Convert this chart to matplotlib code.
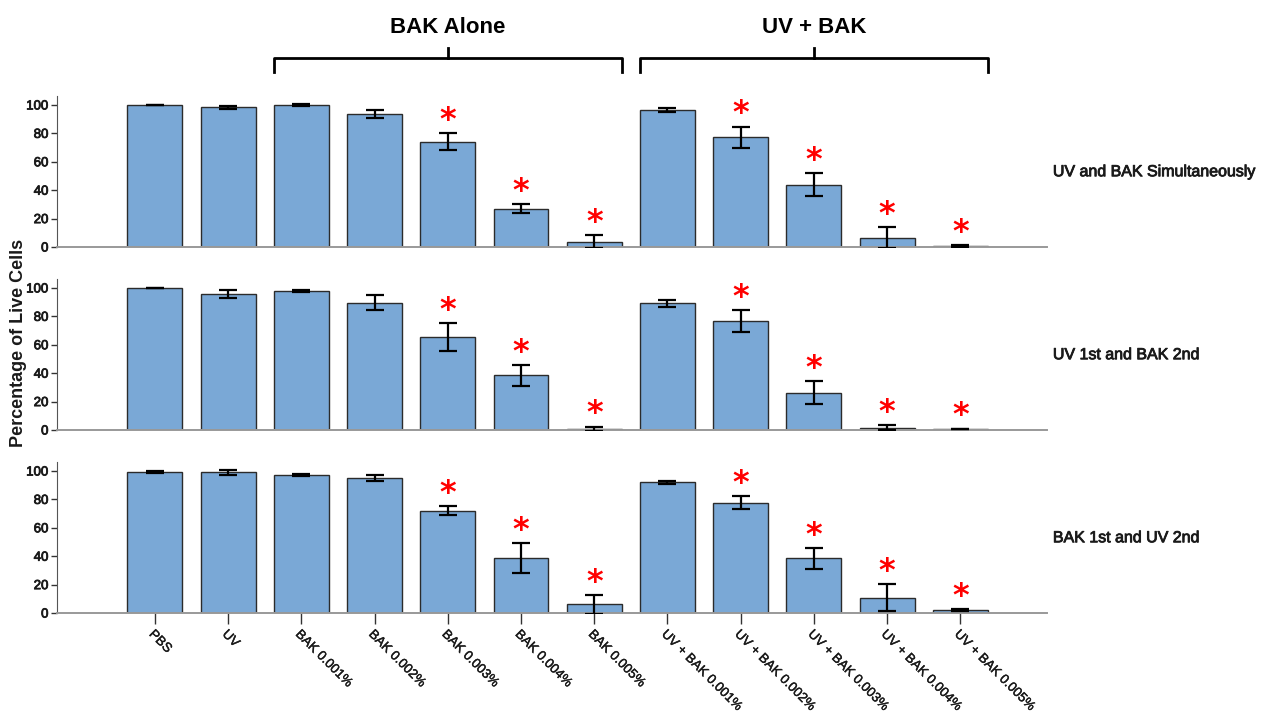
"""Cell viability after BAK and UV exposure, three treatment orders."""

import matplotlib.pyplot as plt
import matplotlib.patheffects as pe
import matplotlib.transforms as mtransforms
import numpy as np

CATEGORIES = [
    "PBS", "UV",
    "BAK 0.001%", "BAK 0.002%", "BAK 0.003%", "BAK 0.004%", "BAK 0.005%",
    "UV + BAK 0.001%", "UV + BAK 0.002%", "UV + BAK 0.003%", "UV + BAK 0.004%", "UV + BAK 0.005%",
]

PANEL_LABELS = ["UV and BAK Simultaneously", "UV 1st and BAK 2nd", "BAK 1st and UV 2nd"]

# mean % live cells and error (half-length of bar) per panel
SIMUL_MEAN = [100.0, 98.3, 99.8, 93.6, 74.2, 27.0, 3.8, 96.5, 77.3, 44.0, 6.6, 0.7]
SIMUL_ERR = [0.3, 1.0, 0.8, 3.0, 6.2, 3.3, 4.5, 1.4, 7.4, 8.2, 7.5, 0.5]

UV_FIRST_MEAN = [100.0, 95.8, 97.9, 89.6, 65.6, 38.4, 0.9, 89.2, 76.7, 26.2, 1.7, 0.7]
UV_FIRST_ERR = [0.3, 3.0, 1.0, 5.4, 9.7, 7.3, 1.5, 2.6, 7.5, 8.0, 1.5, 0.3]

BAK_FIRST_MEAN = [99.5, 99.0, 97.2, 95.1, 72.1, 38.7, 6.1, 92.0, 77.7, 38.5, 10.8, 2.1]
BAK_FIRST_ERR = [0.8, 1.7, 1.0, 2.3, 3.4, 10.5, 6.5, 1.0, 4.8, 7.3, 9.4, 0.6]

# categories marked significant (red asterisk)
SIGNIFICANT = [4, 5, 6, 8, 9, 10, 11]

GROUPS = [("BAK Alone", 2, 6), ("UV + BAK", 7, 11)]

BAR_COLOR = "#7aa8d6"
EDGE = "#2b2b2b"
INK = "#1a1a1a"

plt.rcParams["font.family"] = ["Liberation Sans", "DejaVu Sans"]
# fake the heavy, narrow SPSS-style label font with a thin stroke
heavy = [pe.withStroke(linewidth=0.6, foreground=INK)]

fig = plt.figure(figsize=(12.62, 7.17), dpi=100)

left, width, height = 0.045, 0.785, 0.21
bottoms = [0.6555, 0.4003, 0.1450]
panels = [
    (SIMUL_MEAN, SIMUL_ERR),
    (UV_FIRST_MEAN, UV_FIRST_ERR),
    (BAK_FIRST_MEAN, BAK_FIRST_ERR),
]

x = np.arange(len(CATEGORIES))
axes = []
for i, ((mean, err), label, bottom) in enumerate(zip(panels, PANEL_LABELS, bottoms)):
    ax = fig.add_axes([left, bottom, width, height])
    axes.append(ax)
    ax.bar(x, mean, 0.75, color=BAR_COLOR, edgecolor=EDGE, linewidth=1.0, zorder=2)
    ax.errorbar(x, mean, yerr=err, fmt="none", ecolor="black", elinewidth=1.6,
                capsize=6.5, capthick=1.6, zorder=3)
    for j in SIGNIFICANT:
        ax.text(x[j], mean[j] + err[j] + 9, "*", color="red", fontsize=23,
                fontweight="bold", family=["DejaVu Sans"], ha="center", va="center",
                clip_on=False, zorder=4)

    ax.set_xlim(-1.34, len(CATEGORIES) - 1 + 1.19)
    ax.set_ylim(0, 106)
    ax.set_yticks([0, 20, 40, 60, 80, 100])
    ax.tick_params(axis="y", length=4, width=1, colors="#333", pad=2)
    for t in ax.get_yticklabels():
        t.set_fontsize(9.5)
        t.set_color(INK)
        t.set_path_effects(heavy)
    for spine in ("top", "right"):
        ax.spines[spine].set_visible(False)
    ax.spines["left"].set_color("#555")
    ax.spines["bottom"].set_color("#999")
    ax.spines["bottom"].set_linewidth(1.4)

    if i < 2:
        ax.set_xticks([])
    else:
        ax.set_xticks(x)
        ax.set_xticklabels(CATEGORIES, rotation=-45, ha="left", va="top",
                           rotation_mode="anchor", fontsize=9.5)
        ax.tick_params(axis="x", length=8, width=1, colors="#333", pad=3)
        for t in ax.get_xticklabels():
            t.set_color(INK)
            t.set_path_effects([pe.withStroke(linewidth=0.3, foreground=INK)])

    ax.text(1.0055, 0.5, label, transform=ax.transAxes, fontsize=11.5,
            color=INK, va="center", ha="left", path_effects=heavy)

fig.text(0.015, 0.522, "Percentage of Live Cells", rotation=90, fontsize=13,
         fontweight="bold", color=INK, va="center", ha="center")

# group brackets above the top panel
top = axes[0]
trans = mtransforms.blended_transform_factory(top.transData, top.transAxes)
for name, a, b in GROUPS:
    x0, x1 = a - 0.375, b + 0.375
    xm = (x0 + x1) / 2
    top.plot([x0, x0, x1, x1], [1.165, 1.255, 1.255, 1.165], color="black",
             lw=2, transform=trans, clip_on=False, solid_joinstyle="round")
    top.plot([xm, xm], [1.255, 1.325], color="black", lw=2, transform=trans,
             clip_on=False)
    top.text(xm, 1.46, name, transform=trans, fontsize=16, fontweight="bold",
             color="black", ha="center", va="center")

fig.savefig("out.png", dpi=100)
